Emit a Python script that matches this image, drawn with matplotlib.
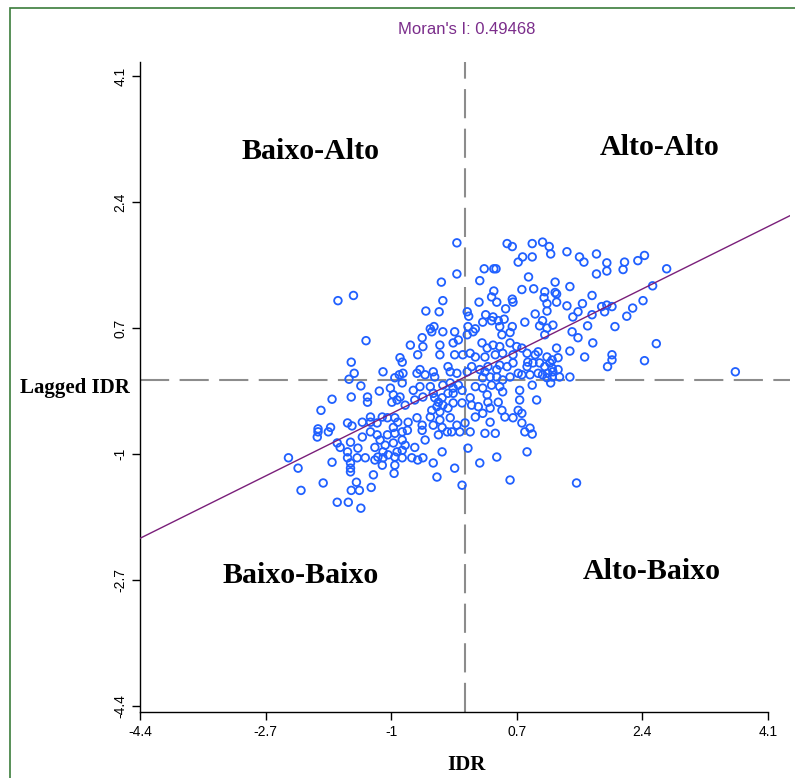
import matplotlib
matplotlib.use("Agg")
import matplotlib.pyplot as plt
from matplotlib.patches import Rectangle

# ---- data (standardised IDR vs spatially lagged IDR) ----
idr = [
    -1.72, -1.51,
    -0.11, 0.57, 0.64, 0.72, -0.11, 0.26, 0.39, 0.42, -0.32, 0.20, 0.39, 0.36, 0.43, 0.64, 0.65,
    -0.30, 0.19, -0.53, -0.35, 0.55, 0.03, 0.05, 0.28, 0.38, 0.24, 0.36, 0.45, 0.53, 0.47, 0.64,
    -0.47, -0.42, 0.04, 0.14,
    0.91, 1.05, 1.14, 1.16, 0.78, 0.91, 1.38, 1.55, 1.61, 1.78, 1.92, 1.92, 1.78, 2.16, 2.14, 2.34,
    0.86, 1.22, 1.42, 0.77, 0.93, 1.08, 1.07, 1.22, 1.24, 1.11, 1.24, 1.72, 1.59, 1.38, 1.11, 0.95,
    1.53, 1.46, 1.72, 1.85, 1.92, 1.99, 1.89, 2.27, 2.19, 0.81, 1.05, 1.01, 1.19, 1.66, 2.03, 1.11,
    2.43, 2.73, 2.54, 2.41,
    -1.34, -1.54, -1.50, -1.57, -1.41, -1.11, -1.16, -1.80, -1.54, -1.32, -1.32, -1.95, -1.59, -1.39,
    -1.28, -1.28, -1.53, -1.82, -1.99, -1.01, -0.97, -0.99, -0.92, -0.95, -0.89, -0.88, -1.19, -1.12,
    -1.05, -0.95, -0.97, -0.91,
    -0.45, -0.30, -0.14, 0.11, 0.50, 0.61, -0.74, -0.58, -0.57, -0.64, -0.34, -0.34, -0.16, -0.09,
    0.03, 0.23, 0.30, 0.38, 0.47, 0.61, 0.70, -0.14, -0.03, 0.07, 0.14, 0.27, 0.41, 0.51, 0.65,
    -0.85, -0.84, -0.85, -0.65, -0.61, -0.54, -0.43, -0.41, -0.23, -0.20, -0.11, 0.03, 0.09, 0.20,
    0.27, 0.31, 0.43, 0.47, 0.57, 0.65, 0.72, 0.34, 0.24, 0.43, 0.51, 0.61, -0.70, -0.61, -0.47,
    -0.30, -0.20, -0.16, -0.09, -0.04, -0.16, -0.23, 0.14, 0.24, 0.36, 0.47, 0.51, 0.30, -0.88,
    -0.81, -0.68, -0.57, -0.43, -0.41, -0.36, -0.31, -0.30, -0.38, -0.45, -0.34, -0.23, -0.16, -0.04,
    0.07, 0.09, 0.18, 0.31, 0.34, 0.45, 0.14, 0.24, 0.34, 0.50, 0.54, 0.65, 0.72, -0.77, -0.65,
    -0.58, -0.47, -0.43, -0.20, -0.11, 0.00, -0.34, -0.31,
    1.08, 1.45, 1.53, 1.73, 1.42, 1.62, 1.24, 0.77, 0.84, 0.95, 0.99, 1.11, 1.18, 1.26, 0.85, 0.92,
    1.01, 1.08, 1.15, 1.18, 1.26, 0.84, 0.77, 0.88, 0.99, 1.05, 1.12, 1.19, 1.11, 1.18, 1.28, 1.42,
    1.16, 0.91, 1.99, 1.99, 1.93, 0.74, 0.97, 0.74, 0.77, 0.77, 0.88,
    2.59, 2.43, 3.66,
    -1.99, -1.85, -2.00, -1.73, -1.69, -1.55, -1.39, -1.28, -1.19, -1.15, -1.05, -0.95, -1.59, -1.45,
    -1.22, -1.08, -0.97, -1.11, -0.92, -2.39, -2.26, -1.80, -1.59, -1.55, -1.46, -1.35, -1.22, -1.18,
    -1.11, -1.04, -0.95, -1.12, -0.95, -1.55, -1.55, -0.96, -1.24, -1.92, -1.47, -1.27, -1.54, -1.43,
    -2.22, -1.73, -1.58, -1.41,
    -0.85, -0.78, -0.58, -0.36, -0.24, -0.18, -0.07, 0.07, 0.27, 0.41, -0.85, -0.54, -0.81, -0.68,
    -0.85, -0.31, 0.04, -0.85, -0.72, -0.64, -0.57, -0.43, -0.14, 0.20, 0.43, -0.38, -0.04, 0.61,
    0.81, 0.91, 0.84, 1.51,
]
lagged_idr = [
    1.07, 1.14,
    1.85, 1.84, 1.80, 1.59, 1.43, 1.50, 1.50, 1.50, 1.32, 1.34, 1.20, 1.12, 1.05, 1.09, 1.05,
    1.07, 1.05, 0.93, 0.92, 0.96, 0.92, 0.86, 0.88, 0.85, 0.78, 0.80, 0.80, 0.82, 0.72, 0.72,
    0.69, 0.72, 0.72, 0.69,
    1.84, 1.86, 1.80, 1.70, 1.66, 1.66, 1.73, 1.66, 1.59, 1.70, 1.58, 1.47, 1.43, 1.59, 1.49, 1.61,
    1.39, 1.32, 1.26, 1.22, 1.23, 1.19, 1.11, 1.18, 1.16, 1.03, 1.05, 1.14, 1.03, 1.00, 0.93, 0.89,
    0.92, 0.85, 0.88, 0.99, 1.01, 0.99, 0.92, 0.97, 0.86, 0.78, 0.80, 0.73, 0.74, 0.73, 0.72, 0.70,
    1.68, 1.50, 1.27, 1.07,
    0.53, 0.24, 0.09, 0.01, -0.08, 0.11, -0.15, -0.26, -0.23, -0.23, -0.30, -0.41, -0.58, -0.57,
    -0.50, -0.57, -0.62, -0.64, -0.66, -0.11, -0.20, -0.30, -0.27, 0.03, 0.07, 0.30, -0.58, -0.50,
    -0.51, -0.51, -0.64, -0.57,
    0.65, 0.65, 0.65, 0.65, 0.61, 0.64, 0.47, 0.57, 0.45, 0.34, 0.47, 0.34, 0.50, 0.54,
    0.61, 0.50, 0.43, 0.47, 0.45, 0.50, 0.45, 0.34, 0.34, 0.36, 0.31, 0.31, 0.34, 0.36, 0.34,
    0.24, 0.09, -0.04, 0.09, 0.14, 0.07, 0.11, 0.04, 0.18, 0.11, 0.09, 0.11, 0.18, 0.14,
    0.11, 0.18, 0.14, 0.20, 0.18, 0.23, 0.09, 0.04, 0.03, 0.04, 0.00, 0.04, -0.14, -0.09, -0.09,
    -0.07, -0.04, -0.11, -0.07, -0.14, -0.18, -0.18, -0.09, -0.11, -0.07, -0.09, -0.16, -0.20, -0.23,
    -0.34, -0.27, -0.23, -0.18, -0.24, -0.30, -0.24, -0.34, -0.36, -0.41, -0.43, -0.38, -0.31, -0.31,
    -0.24, -0.34, -0.36, -0.30, -0.38, -0.30, -0.50, -0.45, -0.57, -0.41, -0.50, -0.51, -0.41, -0.57, -0.51,
    -0.61, -0.50, -0.61, -0.51, -0.61, -0.58, -0.54, -0.64,
    0.61, 0.65, 0.57, 0.50, 0.39, 0.31, 0.43, 0.43, 0.36, 0.34, 0.38, 0.31, 0.27, 0.30, 0.24, 0.23,
    0.23, 0.18, 0.23, 0.16, 0.14, 0.18, 0.07, 0.07, 0.09, 0.07, 0.09, 0.11, 0.03, 0.04, 0.04, 0.04,
    -0.04, -0.07, 0.34, 0.27, 0.18, -0.14, -0.27, -0.27, -0.45, -0.58, -0.65,
    0.49, 0.26, 0.11,
    -0.70, -0.70, -0.77, -0.85, -0.91, -0.84, -0.77, -0.70, -0.74, -0.81, -0.74, -0.72, -0.97, -0.92,
    -0.91, -0.88, -0.85, -0.97, -0.97, -1.05, -1.19, -1.11, -1.05, -1.12, -1.05, -1.05, -1.08, -1.04,
    -1.05, -1.01, -1.04, -1.15, -1.15, -1.19, -1.24, -1.26, -1.28, -1.39, -1.38, -1.45, -1.49, -1.49,
    -1.49, -1.65, -1.65, -1.73,
    -0.70, -0.68, -0.68, -0.74, -0.70, -0.70, -0.70, -0.70, -0.72, -0.72, -0.81, -0.81, -0.88, -0.91,
    -0.95, -0.97, -0.92, -1.05, -1.05, -1.08, -1.05, -1.12, -1.19, -1.12, -1.04, -1.31, -1.42, -1.35,
    -0.70, -0.73, -0.97, -1.39,
]
morans_i = 0.49468
fit_intercept = 0.04
tick_values = [-4.4, -2.7, -1.0, 0.7, 2.4, 4.1]
tick_labels = ["-4.4", "-2.7", "-1", "0.7", "2.4", "4.1"]
quadrant_names = ["Baixo-Alto", "Alto-Alto", "Baixo-Baixo", "Alto-Baixo"]
x_label = "IDR"
y_label = "Lagged IDR"

W, H = 795, 778
fig = plt.figure(figsize=(W / 100, H / 100), dpi=100)
fig.patch.set_facecolor("white")

# green outer frame
fig.patches.append(Rectangle((10 / W, -0.05), 1.2, 1 - 8 / H + 0.05,
                             transform=fig.transFigure, fill=False,
                             edgecolor="#3b7d3b", linewidth=1.2))

ax = fig.add_axes([140 / W, (H - 712) / H, 650 / W, 650 / H])
ax.set_xlim(-4.4, 4.4)
ax.set_ylim(-4.48, 4.29)

serif = ["Liberation Serif", "DejaVu Serif"]
sans = ["Liberation Sans", "DejaVu Sans"]

# reference dashed lines
ax.axvline(0, color="#8c8c8c", lw=1.5, linestyle=(0, (14, 5)), zorder=1)
ax.axhline(0, color="#8c8c8c", lw=1.5, linestyle=(0, (14, 5)), zorder=1)

# points
ax.scatter(idr, lagged_idr, s=30, facecolors="none", edgecolors="#2060ff",
           linewidths=1.3, zorder=3)

# regression line
xs = [-4.4, 4.4]
ax.plot(xs, [fit_intercept + morans_i * v for v in xs], color="#7a1f7a",
        lw=1.0, zorder=4)

# axes styling
for s in ["top", "right"]:
    ax.spines[s].set_visible(False)
ax.spines["bottom"].set_bounds(-4.4, 4.1)
ax.spines["left"].set_bounds(-4.48, 4.29)
for s in ["left", "bottom"]:
    ax.spines[s].set_color("black")
    ax.spines[s].set_linewidth(1.0)
ax.set_xticks(tick_values)
ax.set_xticklabels(tick_labels, fontfamily=sans, fontsize=10)
ax.set_yticks(tick_values)
ax.set_yticklabels(tick_labels, fontfamily=sans, fontsize=10, rotation=90,
                   va="center")
ax.tick_params(direction="out", length=6, width=1, pad=3)

# quadrant labels
qpos = [(-2.09, 3.08), (2.64, 3.14), (-2.23, -2.64), (2.53, -2.59)]
for name, (qx, qy) in zip(quadrant_names, qpos):
    ax.text(qx, qy, name, ha="center", va="center", fontsize=21.5,
            fontweight="bold", fontfamily=serif)

# title and axis labels
fig.text(467 / W, 1 - 30 / H, f"Moran's I: {morans_i:.5f}", color="#7b2d8b",
         ha="center", va="center", fontsize=12,
         fontfamily=["Liberation Sans Narrow", "Liberation Sans", "DejaVu Sans"])
fig.text(466 / W, 1 - 765 / H, x_label, ha="center", va="center",
         fontsize=15, fontweight="bold", fontfamily=serif)
fig.text(75 / W, 1 - 388 / H, y_label, ha="center", va="center",
         fontsize=15, fontweight="bold", fontfamily=serif)

fig.savefig("out.png", dpi=100)
